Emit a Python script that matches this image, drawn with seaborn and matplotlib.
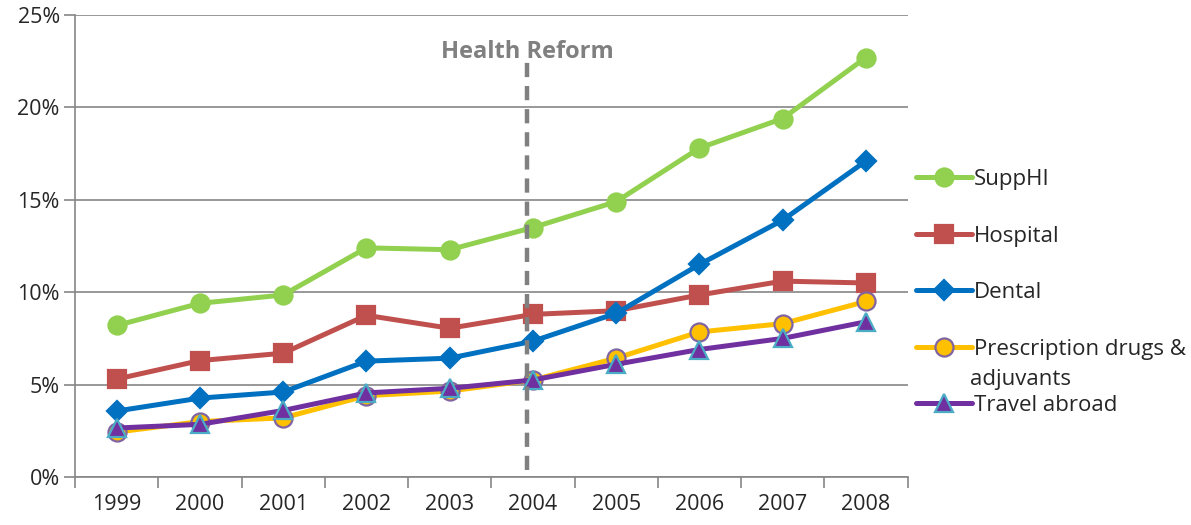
import pandas as pd
import matplotlib.pyplot as plt
import seaborn as sns
from matplotlib.ticker import FuncFormatter

# DATA
years = ['1999', '2000', '2001', '2002', '2003', '2004', '2005', '2006', '2007', '2008']
supphi = [8.2, 9.4, 9.85, 12.4, 12.3, 13.5, 14.9, 17.8, 19.4, 22.7]
hospital = [5.3, 6.3, 6.7, 8.75, 8.05, 8.8, 9.0, 9.85, 10.6, 10.5]
dental = [3.57, 4.27, 4.6, 6.27, 6.43, 7.35, 8.86, 11.5, 13.9, 17.1]
prescription = [2.43, 3.0, 3.2, 4.4, 4.65, 5.25, 6.43, 7.85, 8.3, 9.5]
travel = [2.65, 2.85, 3.6, 4.55, 4.8, 5.25, 6.1, 6.9, 7.5, 8.4]

series = [
    ('SuppHI', supphi, '#92D050', 'o', '#92D050', 13),
    ('Hospital', hospital, '#C0504D', 's', '#C0504D', 12.5),
    ('Dental', dental, '#0070C0', 'D', '#0070C0', 10),
    ('Prescription drugs &', prescription, '#FFC000', 'o', '#8064A2', 13),
    ('Travel abroad', travel, '#7030A0', '^', '#4BACC6', 13),
]

sns.set_style('white')
plt.rcParams['font.family'] = ['Open Sans', 'DejaVu Sans']

fig = plt.figure(figsize=(11.91, 5.25), dpi=100)
ax = fig.add_axes([0.063, 0.0914, 0.699, 0.880])

x = list(range(len(years)))
for name, vals, color, marker, edge, ms in series:
    sns.lineplot(x=x, y=vals, ax=ax, color=color, linewidth=3.6, marker=marker,
                 markersize=ms, markerfacecolor=color,
                 markeredgecolor=edge, markeredgewidth=1.6, label=name)

# Health reform line
ax.axvline(4.93, ymin=0.015, ymax=0.898, color='#808080', linestyle=(0, (3.2, 2.0)), linewidth=3.2)
ax.text(4.93, 23.0, 'Health Reform', ha='center', va='center', color='#808080',
        fontsize=17, fontweight='bold')

ax.set_xlim(-0.5, 9.5)
ax.set_ylim(0, 25)
ax.set_yticks([0, 5, 10, 15, 20, 25])
ax.yaxis.set_major_formatter(FuncFormatter(lambda v, p: f'{v:.0f}%'))
ax.set_xticks(x)
ax.set_xticklabels(years)
ax.set_xticks([i - 0.5 for i in range(len(years) + 1)], minor=True)
ax.tick_params(axis='x', which='major', length=0, labelsize=15.5, pad=12)
ax.tick_params(axis='x', which='minor', length=8, color='#868686', width=1.2, direction='out')
ax.tick_params(axis='y', length=8, color='#868686', width=1.2, labelsize=15.5, direction='out', pad=3)
ax.xaxis.set_ticks_position('bottom')
ax.yaxis.set_ticks_position('left')
ax.grid(axis='y', color='#868686', linewidth=1.2)
ax.set_axisbelow(True)
for s in ['top', 'right']:
    ax.spines[s].set_visible(False)
for s in ['left', 'bottom']:
    ax.spines[s].set_color('#868686')
    ax.spines[s].set_linewidth(1.2)

ax.get_legend().remove()
handles, labels = ax.get_legend_handles_labels()
fig.legend(handles, labels, loc='upper left', bbox_to_anchor=(0.762, 0.695), frameon=False,
           fontsize=16, handlelength=2.5, handletextpad=0.1, labelspacing=1.6,
           borderaxespad=0)
# second line of the prescription label
fig.text(0.8145, 1 - 380 / 525, 'adjuvants', fontsize=16, va='center', ha='left')

plt.savefig('out.png', dpi=100)
